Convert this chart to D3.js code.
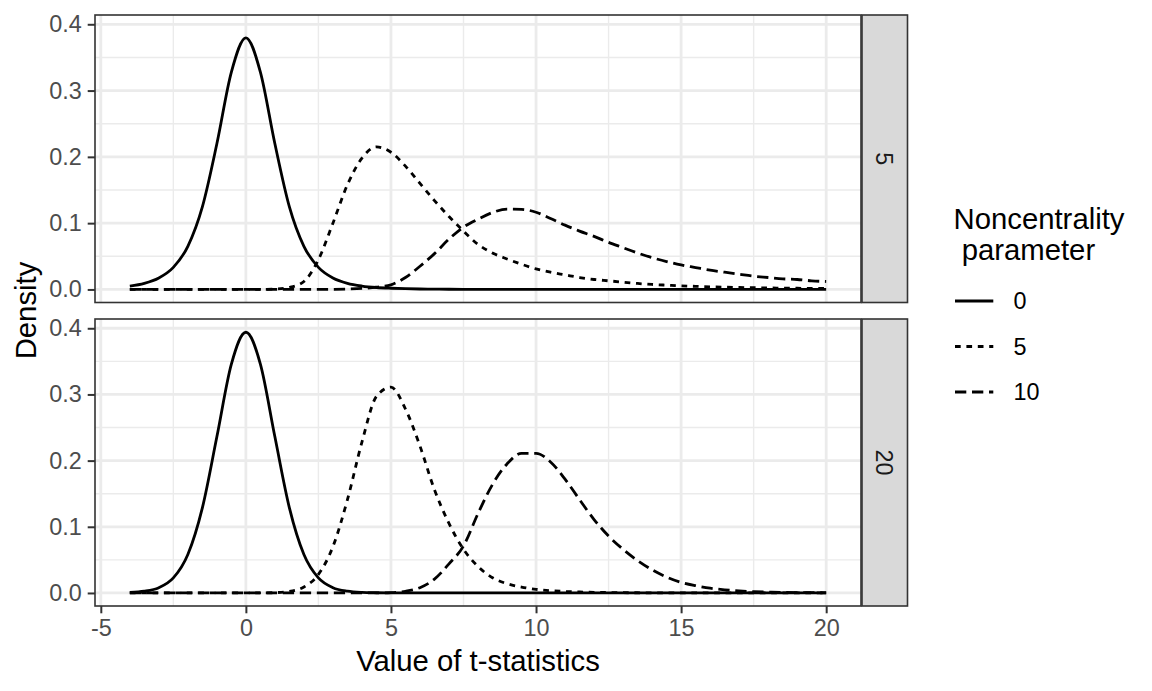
<!DOCTYPE html>
<html>
<head>
<meta charset="utf-8">
<script src="https://cdn.jsdelivr.net/npm/d3@7"></script>
<style>
  body { margin: 0; background: #fff; }
  text { font-family: "Liberation Sans", Arial, sans-serif; }
</style>
</head>
<body>
<svg id="chart" width="1152" height="691"></svg>
<script>
// x grid the curves were read on
const tValues = d3.range(-4, 20.001, 0.5);

// degrees of freedom facets and noncentrality levels
const dfLevels = ['5', '20'];
const ncpLevels = ['0', '5', '10'];

// df = 5
const df5_ncp0 = [0.0051, 0.0092, 0.0173, 0.0333, 0.0651, 0.1245, 0.2197, 0.3279, 0.3796, 0.3279, 0.2197, 0.1245, 0.0651,
  0.0333, 0.0173, 0.0092, 0.0051, 0.0029, 0.0018, 0.0011, 0.0007, 0.0005, 0.0003, 0.0002, 0.00014, 0.0001, 0.0001, 0.0001,
  0, 0, 0, 0, 0, 0, 0, 0, 0, 0, 0, 0, 0, 0, 0, 0, 0, 0, 0, 0, 0];
const df5_ncp5 = [0, 0, 0, 0, 0, 0, 0, 0, 0, 0, 0.0005, 0.003, 0.012, 0.045, 0.100, 0.158, 0.198, 0.215, 0.207, 0.186,
  0.160, 0.134, 0.110, 0.088, 0.068, 0.055, 0.046, 0.038, 0.031, 0.026, 0.022, 0.018, 0.015, 0.013, 0.011, 0.009, 0.0075,
  0.0065, 0.0055, 0.0047, 0.004, 0.0035, 0.003, 0.0026, 0.0023, 0.002, 0.0018, 0.0016, 0.0014];
const df5_ncp10 = [0, 0, 0, 0, 0, 0, 0, 0, 0, 0, 0, 0, 0, 0, 0.0002, 0.0006, 0.0015, 0.0035, 0.007, 0.018, 0.035, 0.054,
  0.076, 0.094, 0.106, 0.116, 0.1212, 0.1208, 0.1165, 0.107, 0.097, 0.088, 0.080, 0.071, 0.063, 0.055, 0.048, 0.042, 0.037,
  0.033, 0.029, 0.026, 0.023, 0.020, 0.018, 0.016, 0.015, 0.013, 0.012];

// df = 20
const df20_ncp0 = [0.0008, 0.0026, 0.0080, 0.0227, 0.0581, 0.1287, 0.2360, 0.3458, 0.3940, 0.3458, 0.2360, 0.1287, 0.0581,
  0.0227, 0.0080, 0.0026, 0.0008, 0.0003, 0.0001, 0, 0, 0, 0, 0, 0, 0, 0, 0, 0, 0, 0, 0, 0, 0, 0, 0, 0, 0, 0, 0, 0, 0, 0,
  0, 0, 0, 0, 0, 0];
const df20_ncp5 = [0, 0, 0, 0, 0, 0, 0, 0, 0, 0, 0.0005, 0.0023, 0.009, 0.028, 0.070, 0.141, 0.228, 0.297, 0.311, 0.278,
  0.222, 0.156, 0.105, 0.066, 0.040, 0.023, 0.014, 0.009, 0.0055, 0.0035, 0.0022, 0.0015, 0.001, 0.0006, 0.0004, 0.0003,
  0.0002, 0.0001, 0, 0, 0, 0, 0, 0, 0, 0, 0, 0, 0];
const df20_ncp10 = [0, 0, 0, 0, 0, 0, 0, 0, 0, 0, 0, 0, 0, 0, 0, 0, 0, 0, 0.0005, 0.0025, 0.008, 0.021, 0.044, 0.071, 0.120,
  0.164, 0.195, 0.211, 0.211, 0.198, 0.172, 0.141, 0.111, 0.086, 0.066, 0.049, 0.035, 0.024, 0.016, 0.011, 0.0072, 0.0048,
  0.0031, 0.002, 0.0013, 0.0009, 0.0006, 0.0004, 0.0003];

const curves = {
  '5': [df5_ncp0, df5_ncp5, df5_ncp10],
  '20': [df20_ncp0, df20_ncp5, df20_ncp10]
};

const xTicks = [-5, 0, 5, 10, 15, 20];
const xMinor = [-2.5, 2.5, 7.5, 12.5, 17.5];
const yTicks = [0, 0.1, 0.2, 0.3, 0.4];
const yMinor = [0.05, 0.15, 0.25, 0.35];

const dashes = { '0': null, '5': '5.7,5.7', '10': '11.3,5.7' };

const axisFont = '23.4px', titleFont = '29.3px';
const lineW = 2.8;

const svg = d3.select('#chart');

const left = 95, right = 861;
const panels = [{ df: '5', top: 15, bottom: 302.5 }, { df: '20', top: 319, bottom: 606 }];

const x = d3.scaleLinear().domain([-5.2, 21.2]).range([left, right]);

panels.forEach(p => {
  const y = d3.scaleLinear().domain([-0.0197, 0.414]).range([p.bottom, p.top]);
  const g = svg.append('g');

  // minor grid
  g.selectAll('.vminor').data(xMinor).enter().append('line')
    .attr('x1', d => x(d)).attr('x2', d => x(d)).attr('y1', p.top).attr('y2', p.bottom)
    .attr('stroke', '#EBEBEB').attr('stroke-width', 1.4);
  g.selectAll('.hminor').data(yMinor).enter().append('line')
    .attr('x1', left).attr('x2', right).attr('y1', d => y(d)).attr('y2', d => y(d))
    .attr('stroke', '#EBEBEB').attr('stroke-width', 1.4);
  // major grid
  g.selectAll('.vmajor').data(xTicks).enter().append('line')
    .attr('x1', d => x(d)).attr('x2', d => x(d)).attr('y1', p.top).attr('y2', p.bottom)
    .attr('stroke', '#EBEBEB').attr('stroke-width', 2.8);
  g.selectAll('.hmajor').data(yTicks).enter().append('line')
    .attr('x1', left).attr('x2', right).attr('y1', d => y(d)).attr('y2', d => y(d))
    .attr('stroke', '#EBEBEB').attr('stroke-width', 2.8);

  const line = d3.line().x((d, i) => x(tValues[i])).y(d => y(d)).curve(d3.curveMonotoneX);

  g.selectAll('path.curve')
    .data(curves[p.df])
    .enter()
    .append('path')
    .attr('class', 'curve')
    .attr('d', d => line(d))
    .attr('fill', 'none')
    .attr('stroke', '#000')
    .attr('stroke-width', lineW)
    .attr('stroke-dasharray', (d, i) => dashes[ncpLevels[i]]);

  // panel border
  g.append('rect').attr('x', left).attr('y', p.top).attr('width', right - left).attr('height', p.bottom - p.top)
    .attr('fill', 'none').attr('stroke', '#333333').attr('stroke-width', 1.6);

  // y axis
  const yAxis = d3.axisLeft(y).tickValues(yTicks).tickFormat(d3.format('.1f')).tickSize(7.3).tickPadding(5.9);
  const ya = svg.append('g').attr('transform', `translate(${left},0)`).call(yAxis);
  ya.select('.domain').remove();
  ya.selectAll('line').attr('stroke', '#333333').attr('stroke-width', 2);
  ya.selectAll('text').attr('fill', '#4D4D4D').style('font-size', axisFont)
    .style('font-family', '"Liberation Sans", Arial, sans-serif');

  // strip
  svg.append('rect').attr('x', 862).attr('y', p.top).attr('width', 45.5).attr('height', p.bottom - p.top)
    .attr('fill', '#D9D9D9').attr('stroke', '#333333').attr('stroke-width', 1.6);
  svg.append('text')
    .attr('transform', `translate(${884.5},${(p.top + p.bottom) / 2}) rotate(90)`)
    .attr('text-anchor', 'middle').attr('dy', '0.35em')
    .attr('fill', '#1A1A1A').style('font-size', axisFont)
    .text(p.df);
});

// x axis on bottom panel
const xAxis = d3.axisBottom(x).tickValues(xTicks).tickFormat(d => String(d)).tickSize(7.3).tickPadding(5.9);
const xa = svg.append('g').attr('transform', `translate(0,${panels[1].bottom})`).call(xAxis);
xa.select('.domain').remove();
xa.selectAll('line').attr('stroke', '#333333').attr('stroke-width', 2);
xa.selectAll('text').attr('fill', '#4D4D4D').style('font-size', axisFont)
  .style('font-family', '"Liberation Sans", Arial, sans-serif');

// axis titles
svg.append('text').attr('x', (left + right) / 2).attr('y', 670.5).attr('text-anchor', 'middle')
  .style('font-size', titleFont).text('Value of t-statistics');
svg.append('text').attr('transform', `translate(35.5,${(15 + 606) / 2}) rotate(-90)`).attr('text-anchor', 'middle')
  .style('font-size', titleFont).text('Density');

// legend
const legend = svg.append('g');
legend.append('text').attr('x', 953.5).attr('y', 229.3).style('font-size', titleFont).text('Noncentrality');
legend.append('text').attr('x', 953.5).attr('y', 260).style('font-size', titleFont)
  .attr('xml:space', 'preserve').style('white-space', 'pre').text(' parameter');

const keyY = [301, 346.5, 392];
const key = legend.selectAll('g.key').data(ncpLevels).enter().append('g').attr('class', 'key');
key.append('line').attr('x1', 955).attr('x2', 993.3).attr('y1', (d, i) => keyY[i]).attr('y2', (d, i) => keyY[i])
  .attr('stroke', '#000').attr('stroke-width', lineW).attr('stroke-dasharray', d => dashes[d]);
key.append('text').attr('x', 1013.5).attr('y', (d, i) => keyY[i]).attr('dy', '0.35em')
  .style('font-size', axisFont).text(d => d);
</script>
</body>
</html>
